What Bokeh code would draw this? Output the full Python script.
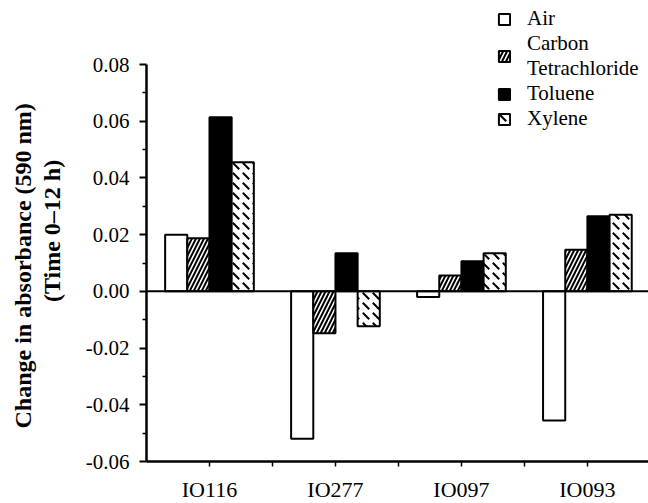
import numpy as np
from bokeh.plotting import figure
from bokeh.models import (Range1d, FixedTicker, PrintfTickFormatter, Span, Legend, LegendItem,
                          ColumnDataSource, Title)
from bokeh.embed import file_html
from bokeh.resources import INLINE

# ---- data ----
categories = ["IO116", "IO277", "IO097", "IO093"]
series_names = ["Air", "Carbon\nTetrachloride", "Toluene", "Xylene"]
air = [0.020, -0.052, -0.002, -0.0455]
carbon = [0.0187, -0.0148, 0.0056, 0.0147]
toluene = [0.0614, 0.0134, 0.0106, 0.0265]
xylene = [0.0455, -0.0123, 0.0134, 0.0270]
y_ticks = [-0.06, -0.04, -0.02, 0.00, 0.02, 0.04, 0.06, 0.08]
y_minor = [-0.05, -0.03, -0.01, 0.01, 0.03, 0.05, 0.07]
y_label_lines = ["Change in absorbance (590 nm)", "(Time 0\u201312 h)"]

SERIF = "'Liberation Serif', 'Times New Roman', serif"

p = figure(output_backend="svg", toolbar_location=None,
           frame_width=502, frame_height=461,
           min_border_left=146, min_border_right=0, min_border_top=0, min_border_bottom=42,
           x_range=Range1d(0, 3.985), y_range=Range1d(-0.06, 0.10257))
p.outline_line_color = None
p.xgrid.visible = False
p.ygrid.visible = False
p.background_fill_color = "white"
p.border_fill_color = "white"

centers = np.arange(len(categories)) + 0.5
w = 0.176
offsets = [-1.5 * w, -0.5 * w, 0.5 * w, 1.5 * w]

styles = [
    dict(fill_color="white"),
    dict(fill_color="white", hatch_pattern="right_diagonal_line", hatch_color="black",
         hatch_weight=2, hatch_scale=8),
    dict(fill_color="black"),
    dict(fill_color="white", hatch_pattern="left_diagonal_dash", hatch_color="black",
         hatch_weight=2, hatch_scale=10),
]

renderers = []
for vals, off, st in zip([air, carbon, toluene, xylene], offsets, styles):
    src = ColumnDataSource(dict(x=centers + off, top=vals))
    r = p.vbar(x="x", top="top", bottom=0, width=w, source=src,
               line_color="black", line_width=2, **st)
    renderers.append(r)

zero = Span(location=0, dimension="width", line_color="black", line_width=2)
p.add_layout(zero)

# axes
p.xaxis.ticker = FixedTicker(ticks=list(centers), minor_ticks=[1, 2, 3])
p.xaxis.major_label_overrides = {float(c): n for c, n in zip(centers, categories)}
p.xaxis.major_label_text_font = SERIF
p.xaxis.major_label_text_font_size = "22px"
p.xaxis.major_label_text_color = "black"
p.xaxis.major_label_standoff = 10
p.xaxis.axis_line_width = 2.5
p.xaxis.major_tick_out = 5
p.xaxis.major_tick_in = 0
p.xaxis.minor_tick_out = 5
p.xaxis.minor_tick_in = 0
p.xaxis.major_tick_line_width = 1.5
p.xaxis.minor_tick_line_width = 1.5

p.yaxis.bounds = (-0.06, 0.08)
p.yaxis.ticker = FixedTicker(ticks=y_ticks, minor_ticks=y_minor)
p.yaxis.formatter = PrintfTickFormatter(format="%.2f")
p.yaxis.major_label_text_font = SERIF
p.yaxis.major_label_text_font_size = "21px"
p.yaxis.major_label_text_color = "black"
p.yaxis.major_label_standoff = 10
p.yaxis.axis_line_width = 2.5
p.yaxis.major_tick_out = 7
p.yaxis.major_tick_in = 0
p.yaxis.minor_tick_out = 4
p.yaxis.minor_tick_in = 0
p.yaxis.major_tick_line_width = 2
p.yaxis.minor_tick_line_width = 1.5
p.yaxis.axis_label = y_label_lines[1]
p.yaxis.axis_label_text_font = SERIF
p.yaxis.axis_label_text_font_style = "bold"
p.yaxis.axis_label_text_font_size = "24px"
p.yaxis.axis_label_text_color = "black"
p.yaxis.axis_label_standoff = 18

# first line of the y label, placed along the drawn part of the axis
t_outer = Title(text=y_label_lines[0], align="left", offset=33, standoff=0,
                text_font=SERIF, text_font_style="bold", text_font_size="24px",
                text_color="black")
p.add_layout(t_outer, "left")

legend = Legend(items=[LegendItem(label=n, renderers=[r]) for n, r in zip(series_names, renderers)],
                location=(351, 330), orientation="vertical")
legend.label_text_font = SERIF
legend.label_text_font_size = "21px"
legend.label_text_color = "black"
legend.label_text_line_height = 0.9
legend.glyph_width = 14
legend.glyph_height = 14
legend.label_height = 21
legend.label_standoff = 16
legend.spacing = 0
legend.padding = 0
legend.margin = 0
legend.border_line_color = None
legend.background_fill_alpha = 0
p.add_layout(legend, "center")

open("out.html", "w").write(file_html(p, INLINE))
